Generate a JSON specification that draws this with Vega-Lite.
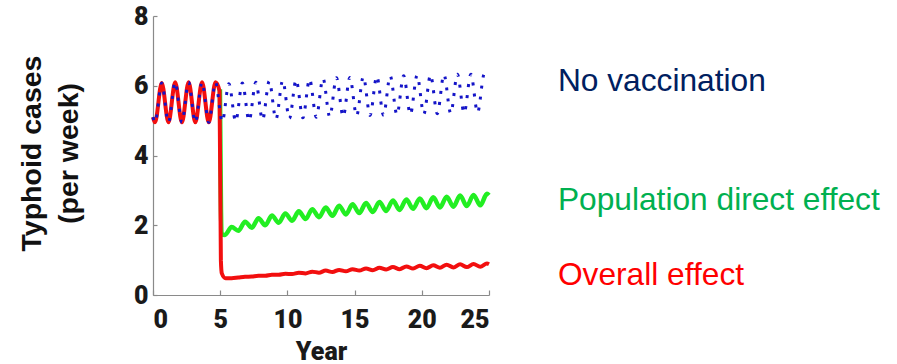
{
  "$schema": "https://vega.github.io/schema/vega-lite/v6.json",
  "autosize": "none",
  "width": 336,
  "height": 279,
  "padding": {"left": 153, "top": 16, "right": 408, "bottom": 69},
  "background": "white",
  "config": {
    "view": {"stroke": null},
    "axis": {"grid": false, "domainColor": "#8a8a8a", "tickColor": "#8a8a8a", "domainWidth": 1.2, "tickWidth": 1.2}
  },
  "datasets": {
    "series": [
      {"series": "No vaccination", "year": 0, "cases": 5.1},
      {"series": "No vaccination", "year": 0.15, "cases": 4.95},
      {"series": "No vaccination", "year": 0.65, "cases": 6.08},
      {"series": "No vaccination", "year": 1.15, "cases": 4.95},
      {"series": "No vaccination", "year": 1.65, "cases": 6.1},
      {"series": "No vaccination", "year": 2.15, "cases": 4.95},
      {"series": "No vaccination", "year": 2.65, "cases": 6.1},
      {"series": "No vaccination", "year": 3.15, "cases": 4.95},
      {"series": "No vaccination", "year": 3.65, "cases": 6.1},
      {"series": "No vaccination", "year": 4.15, "cases": 4.95},
      {"series": "No vaccination", "year": 4.65, "cases": 6.1},
      {"series": "No vaccination", "year": 5.15, "cases": 4.97},
      {"series": "No vaccination", "year": 5.65, "cases": 6.06},
      {"series": "No vaccination", "year": 6.15, "cases": 4.98},
      {"series": "No vaccination", "year": 6.65, "cases": 6.08},
      {"series": "No vaccination", "year": 7.15, "cases": 5.0},
      {"series": "No vaccination", "year": 7.65, "cases": 6.1},
      {"series": "No vaccination", "year": 8.15, "cases": 5.02},
      {"series": "No vaccination", "year": 8.65, "cases": 6.13},
      {"series": "No vaccination", "year": 9.15, "cases": 5.04},
      {"series": "No vaccination", "year": 9.65, "cases": 6.15},
      {"series": "No vaccination", "year": 10.15, "cases": 5.06},
      {"series": "No vaccination", "year": 10.65, "cases": 6.17},
      {"series": "No vaccination", "year": 11.15, "cases": 5.08},
      {"series": "No vaccination", "year": 11.65, "cases": 6.19},
      {"series": "No vaccination", "year": 12.15, "cases": 5.1},
      {"series": "No vaccination", "year": 12.65, "cases": 6.21},
      {"series": "No vaccination", "year": 13.15, "cases": 5.11},
      {"series": "No vaccination", "year": 13.65, "cases": 6.23},
      {"series": "No vaccination", "year": 14.15, "cases": 5.12},
      {"series": "No vaccination", "year": 14.65, "cases": 6.24},
      {"series": "No vaccination", "year": 15.15, "cases": 5.14},
      {"series": "No vaccination", "year": 15.65, "cases": 6.26},
      {"series": "No vaccination", "year": 16.15, "cases": 5.15},
      {"series": "No vaccination", "year": 16.65, "cases": 6.27},
      {"series": "No vaccination", "year": 17.15, "cases": 5.16},
      {"series": "No vaccination", "year": 17.65, "cases": 6.28},
      {"series": "No vaccination", "year": 18.15, "cases": 5.17},
      {"series": "No vaccination", "year": 18.65, "cases": 6.29},
      {"series": "No vaccination", "year": 19.15, "cases": 5.18},
      {"series": "No vaccination", "year": 19.65, "cases": 6.3},
      {"series": "No vaccination", "year": 20.15, "cases": 5.19},
      {"series": "No vaccination", "year": 20.65, "cases": 6.31},
      {"series": "No vaccination", "year": 21.15, "cases": 5.2},
      {"series": "No vaccination", "year": 21.65, "cases": 6.32},
      {"series": "No vaccination", "year": 22.15, "cases": 5.21},
      {"series": "No vaccination", "year": 22.65, "cases": 6.33},
      {"series": "No vaccination", "year": 23.15, "cases": 5.22},
      {"series": "No vaccination", "year": 23.65, "cases": 6.33},
      {"series": "No vaccination", "year": 24.15, "cases": 5.23},
      {"series": "No vaccination", "year": 24.65, "cases": 6.34},
      {"series": "No vaccination", "year": 25, "cases": 6.2},

      {"series": "Overall effect", "year": 0, "cases": 5.1},
      {"series": "Overall effect", "year": 0.15, "cases": 4.95},
      {"series": "Overall effect", "year": 0.65, "cases": 6.08},
      {"series": "Overall effect", "year": 1.15, "cases": 4.95},
      {"series": "Overall effect", "year": 1.65, "cases": 6.1},
      {"series": "Overall effect", "year": 2.15, "cases": 4.95},
      {"series": "Overall effect", "year": 2.65, "cases": 6.1},
      {"series": "Overall effect", "year": 3.15, "cases": 4.95},
      {"series": "Overall effect", "year": 3.65, "cases": 6.1},
      {"series": "Overall effect", "year": 4.15, "cases": 4.95},
      {"series": "Overall effect", "year": 4.65, "cases": 6.1},
      {"series": "Overall effect", "year": 4.95, "cases": 5.85},
      {"series": "Overall effect", "year": 5.05, "cases": 1.0},
      {"series": "Overall effect", "year": 5.12, "cases": 0.62},
      {"series": "Overall effect", "year": 5.4, "cases": 0.48},
      {"series": "Overall effect", "year": 5.85, "cases": 0.48},
      {"series": "Overall effect", "year": 6.35, "cases": 0.5},
      {"series": "Overall effect", "year": 6.85, "cases": 0.52},
      {"series": "Overall effect", "year": 7.35, "cases": 0.53},
      {"series": "Overall effect", "year": 7.85, "cases": 0.55},
      {"series": "Overall effect", "year": 8.35, "cases": 0.55},
      {"series": "Overall effect", "year": 8.85, "cases": 0.58},
      {"series": "Overall effect", "year": 9.35, "cases": 0.58},
      {"series": "Overall effect", "year": 9.85, "cases": 0.61},
      {"series": "Overall effect", "year": 10.35, "cases": 0.6},
      {"series": "Overall effect", "year": 10.85, "cases": 0.64},
      {"series": "Overall effect", "year": 11.35, "cases": 0.62},
      {"series": "Overall effect", "year": 11.85, "cases": 0.67},
      {"series": "Overall effect", "year": 12.35, "cases": 0.64},
      {"series": "Overall effect", "year": 12.85, "cases": 0.7},
      {"series": "Overall effect", "year": 13.35, "cases": 0.66},
      {"series": "Overall effect", "year": 13.85, "cases": 0.72},
      {"series": "Overall effect", "year": 14.35, "cases": 0.68},
      {"series": "Overall effect", "year": 14.85, "cases": 0.74},
      {"series": "Overall effect", "year": 15.35, "cases": 0.7},
      {"series": "Overall effect", "year": 15.85, "cases": 0.76},
      {"series": "Overall effect", "year": 16.35, "cases": 0.71},
      {"series": "Overall effect", "year": 16.85, "cases": 0.78},
      {"series": "Overall effect", "year": 17.35, "cases": 0.73},
      {"series": "Overall effect", "year": 17.85, "cases": 0.8},
      {"series": "Overall effect", "year": 18.35, "cases": 0.74},
      {"series": "Overall effect", "year": 18.85, "cases": 0.82},
      {"series": "Overall effect", "year": 19.35, "cases": 0.76},
      {"series": "Overall effect", "year": 19.85, "cases": 0.84},
      {"series": "Overall effect", "year": 20.35, "cases": 0.77},
      {"series": "Overall effect", "year": 20.85, "cases": 0.85},
      {"series": "Overall effect", "year": 21.35, "cases": 0.78},
      {"series": "Overall effect", "year": 21.85, "cases": 0.87},
      {"series": "Overall effect", "year": 22.35, "cases": 0.79},
      {"series": "Overall effect", "year": 22.85, "cases": 0.88},
      {"series": "Overall effect", "year": 23.35, "cases": 0.8},
      {"series": "Overall effect", "year": 23.85, "cases": 0.89},
      {"series": "Overall effect", "year": 24.35, "cases": 0.81},
      {"series": "Overall effect", "year": 24.85, "cases": 0.9},
      {"series": "Overall effect", "year": 25, "cases": 0.88},

      {"series": "Population direct effect", "year": 4.98, "cases": 5.9},
      {"series": "Population direct effect", "year": 5.06, "cases": 2.4},
      {"series": "Population direct effect", "year": 5.1, "cases": 1.75},
      {"series": "Population direct effect", "year": 5.35, "cases": 1.72},
      {"series": "Population direct effect", "year": 5.85, "cases": 1.95},
      {"series": "Population direct effect", "year": 6.35, "cases": 1.84},
      {"series": "Population direct effect", "year": 6.85, "cases": 2.1},
      {"series": "Population direct effect", "year": 7.35, "cases": 1.93},
      {"series": "Population direct effect", "year": 7.85, "cases": 2.2},
      {"series": "Population direct effect", "year": 8.35, "cases": 2.0},
      {"series": "Population direct effect", "year": 8.85, "cases": 2.28},
      {"series": "Population direct effect", "year": 9.35, "cases": 2.07},
      {"series": "Population direct effect", "year": 9.85, "cases": 2.34},
      {"series": "Population direct effect", "year": 10.35, "cases": 2.13},
      {"series": "Population direct effect", "year": 10.85, "cases": 2.4},
      {"series": "Population direct effect", "year": 11.35, "cases": 2.18},
      {"series": "Population direct effect", "year": 11.85, "cases": 2.46},
      {"series": "Population direct effect", "year": 12.35, "cases": 2.23},
      {"series": "Population direct effect", "year": 12.85, "cases": 2.51},
      {"series": "Population direct effect", "year": 13.35, "cases": 2.27},
      {"series": "Population direct effect", "year": 13.85, "cases": 2.56},
      {"series": "Population direct effect", "year": 14.35, "cases": 2.31},
      {"series": "Population direct effect", "year": 14.85, "cases": 2.6},
      {"series": "Population direct effect", "year": 15.35, "cases": 2.35},
      {"series": "Population direct effect", "year": 15.85, "cases": 2.64},
      {"series": "Population direct effect", "year": 16.35, "cases": 2.38},
      {"series": "Population direct effect", "year": 16.85, "cases": 2.67},
      {"series": "Population direct effect", "year": 17.35, "cases": 2.41},
      {"series": "Population direct effect", "year": 17.85, "cases": 2.71},
      {"series": "Population direct effect", "year": 18.35, "cases": 2.44},
      {"series": "Population direct effect", "year": 18.85, "cases": 2.74},
      {"series": "Population direct effect", "year": 19.35, "cases": 2.47},
      {"series": "Population direct effect", "year": 19.85, "cases": 2.77},
      {"series": "Population direct effect", "year": 20.35, "cases": 2.49},
      {"series": "Population direct effect", "year": 20.85, "cases": 2.8},
      {"series": "Population direct effect", "year": 21.35, "cases": 2.51},
      {"series": "Population direct effect", "year": 21.85, "cases": 2.82},
      {"series": "Population direct effect", "year": 22.35, "cases": 2.53},
      {"series": "Population direct effect", "year": 22.85, "cases": 2.85},
      {"series": "Population direct effect", "year": 23.35, "cases": 2.55},
      {"series": "Population direct effect", "year": 23.85, "cases": 2.87},
      {"series": "Population direct effect", "year": 24.35, "cases": 2.57},
      {"series": "Population direct effect", "year": 24.85, "cases": 2.9},
      {"series": "Population direct effect", "year": 25, "cases": 2.86}
    ],
    "labels": [
      {"series": "No vaccination", "year": 30.13, "cases": 5.86},
      {"series": "Population direct effect", "year": 30.13, "cases": 2.44},
      {"series": "Overall effect", "year": 30.13, "cases": 0.29}
    ]
  },
  "layer": [
    {
      "data": {"name": "series"},
      "transform": [{"filter": "datum.series === 'Population direct effect'"}],
      "mark": {"type": "line", "color": "#22ee22", "strokeWidth": 4.5, "interpolate": "monotone"},
      "encoding": {
        "x": {"field": "year", "type": "quantitative", "scale": {"domain": [0, 25], "nice": false},
          "axis": {"values": [0, 5, 10, 15, 20, 25], "tickSize": -5, "labelPadding": 17, "labelFont": "Roboto", "labelFontWeight": 900, "labelFontSize": 25, "labelColor": "#1a1a1a", "title": "Year", "titleFont": "Roboto", "titleFontWeight": 900, "titleFontSize": 25, "titleColor": "#1a1a1a", "titlePadding": 7}},
        "y": {"field": "cases", "type": "quantitative", "scale": {"domain": [0, 8], "nice": false},
          "axis": {"values": [0, 2, 4, 6, 8], "tickSize": -4, "labelPadding": 9, "labelFont": "Roboto", "labelFontWeight": 900, "labelFontSize": 25, "labelColor": "#1a1a1a", "title": ["Typhoid cases", "(per week)"], "titleFont": "Liberation Sans", "titleFontWeight": "bold", "titleFontSize": 28.5, "titleLineHeight": 37, "titleColor": "#111111", "titlePadding": 50, "titleY": 137}}
      }
    },
    {
      "data": {"name": "series"},
      "transform": [{"filter": "datum.series === 'Overall effect'"}],
      "mark": {"type": "line", "color": "#f20f0f", "strokeWidth": 4, "interpolate": "monotone"},
      "encoding": {
        "x": {"field": "year", "type": "quantitative"},
        "y": {"field": "cases", "type": "quantitative"}
      }
    },
    {
      "data": {"name": "series"},
      "transform": [{"filter": "datum.series === 'No vaccination'"}],
      "mark": {"type": "line", "color": "#1414c8", "strokeWidth": 3, "strokeDash": [3, 8], "interpolate": "monotone"},
      "encoding": {
        "x": {"field": "year", "type": "quantitative"},
        "y": {"field": "cases", "type": "quantitative"}
      }
    },
    {
      "data": {"name": "labels"},
      "mark": {"type": "text", "align": "left", "baseline": "alphabetic", "font": "Liberation Sans", "fontSize": 31.7},
      "encoding": {
        "x": {"field": "year", "type": "quantitative"},
        "y": {"field": "cases", "type": "quantitative"},
        "text": {"field": "series"},
        "color": {"field": "series", "type": "nominal", "legend": null,
          "scale": {"domain": ["No vaccination", "Population direct effect", "Overall effect"], "range": ["#002060", "#00b050", "#ff0000"]}}
      }
    }
  ]
}
